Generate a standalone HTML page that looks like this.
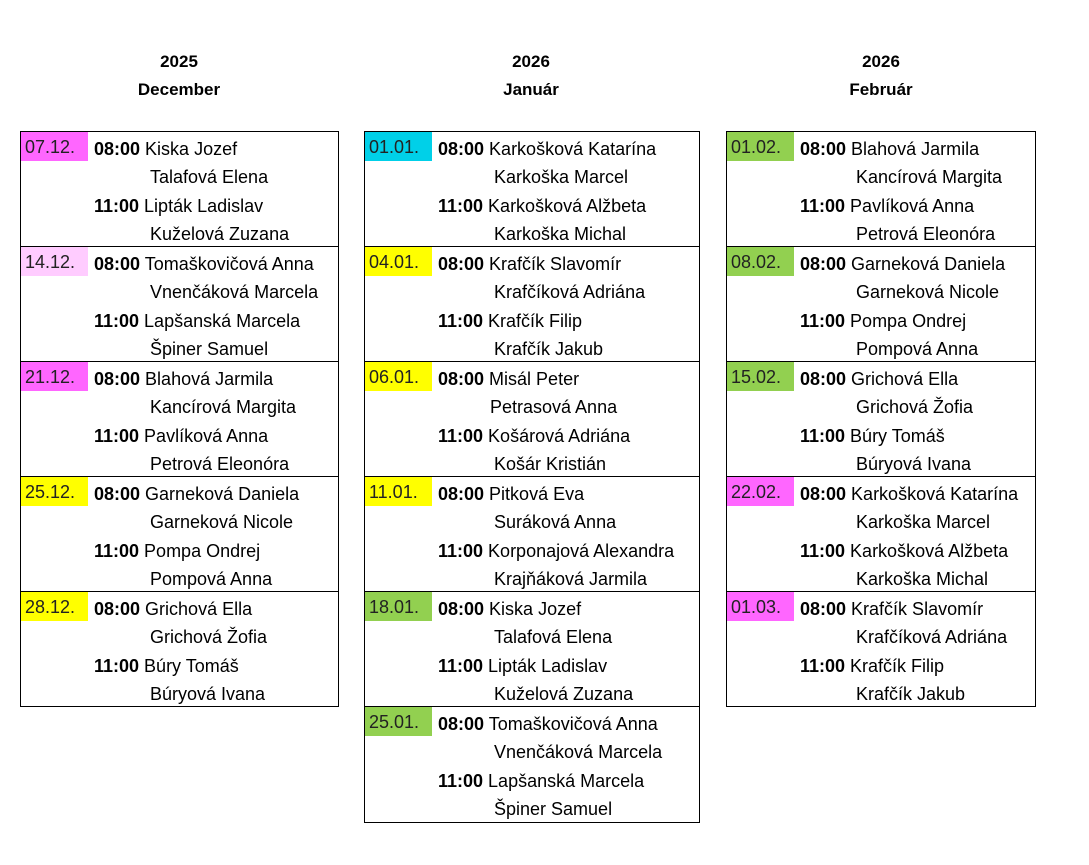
<!DOCTYPE html>
<html><head><meta charset="utf-8"><style>
body{margin:0;width:1089px;height:865px;background:#fff;position:relative;overflow:hidden;font-family:"Liberation Sans",sans-serif;color:#000}
.h{position:absolute;font-weight:bold;font-size:17px;text-align:center;width:200px;line-height:20px}
.b{position:absolute;border:1px solid #000;box-sizing:border-box;height:116px}
.d{position:absolute;left:0;top:0;width:67px;height:29px;font-size:18px;line-height:30px;padding-left:4px;box-sizing:border-box;color:#222}
.l{position:absolute;font-size:18px;line-height:20px;white-space:nowrap}
.t{font-weight:bold}
</style></head><body>
<div class="h" style="left:79px;top:52px">2025</div>
<div class="h" style="left:79px;top:80px">December</div>
<div class="h" style="left:431px;top:52px">2026</div>
<div class="h" style="left:431px;top:80px">Január</div>
<div class="h" style="left:781px;top:52px">2026</div>
<div class="h" style="left:781px;top:80px">Február</div>

<!-- column 1 -->
<div class="b" style="left:20px;top:131px;width:319px"><div class="d" style="background:#ff66ff">07.12.</div>
<div class="l" style="left:73px;top:7px"><span class="t">08:00</span> Kiska Jozef</div>
<div class="l" style="left:129px;top:35px">Talafová Elena</div>
<div class="l" style="left:73px;top:64px"><span class="t">11:00</span> Lipták Ladislav</div>
<div class="l" style="left:129px;top:92px">Kuželová Zuzana</div></div>
<div class="b" style="left:20px;top:246px;width:319px"><div class="d" style="background:#ffccff">14.12.</div>
<div class="l" style="left:73px;top:7px"><span class="t">08:00</span> Tomaškovičová Anna</div>
<div class="l" style="left:129px;top:35px">Vnenčáková Marcela</div>
<div class="l" style="left:73px;top:64px"><span class="t">11:00</span> Lapšanská Marcela</div>
<div class="l" style="left:129px;top:92px">Špiner Samuel</div></div>
<div class="b" style="left:20px;top:361px;width:319px"><div class="d" style="background:#ff66ff">21.12.</div>
<div class="l" style="left:73px;top:7px"><span class="t">08:00</span> Blahová Jarmila</div>
<div class="l" style="left:129px;top:35px">Kancírová  Margita</div>
<div class="l" style="left:73px;top:64px"><span class="t">11:00</span> Pavlíková Anna</div>
<div class="l" style="left:129px;top:92px">Petrová Eleonóra</div></div>
<div class="b" style="left:20px;top:476px;width:319px"><div class="d" style="background:#ffff00">25.12.</div>
<div class="l" style="left:73px;top:7px"><span class="t">08:00</span> Garneková Daniela</div>
<div class="l" style="left:129px;top:35px">Garneková Nicole</div>
<div class="l" style="left:73px;top:64px"><span class="t">11:00</span> Pompa Ondrej</div>
<div class="l" style="left:129px;top:92px">Pompová Anna</div></div>
<div class="b" style="left:20px;top:591px;width:319px"><div class="d" style="background:#ffff00">28.12.</div>
<div class="l" style="left:73px;top:7px"><span class="t">08:00</span> Grichová Ella</div>
<div class="l" style="left:129px;top:35px">Grichová Žofia</div>
<div class="l" style="left:73px;top:64px"><span class="t">11:00</span> Búry Tomáš</div>
<div class="l" style="left:129px;top:92px">Búryová Ivana</div></div>

<!-- column 2 -->
<div class="b" style="left:364px;top:131px;width:336px"><div class="d" style="background:#00d0e8">01.01.</div>
<div class="l" style="left:73px;top:7px"><span class="t">08:00</span> Karkošková Katarína</div>
<div class="l" style="left:129px;top:35px">Karkoška Marcel</div>
<div class="l" style="left:73px;top:64px"><span class="t">11:00</span> Karkošková Alžbeta</div>
<div class="l" style="left:129px;top:92px">Karkoška Michal</div></div>
<div class="b" style="left:364px;top:246px;width:336px"><div class="d" style="background:#ffff00">04.01.</div>
<div class="l" style="left:73px;top:7px"><span class="t">08:00</span> Krafčík Slavomír</div>
<div class="l" style="left:129px;top:35px">Krafčíková Adriána</div>
<div class="l" style="left:73px;top:64px"><span class="t">11:00</span> Krafčík Filip</div>
<div class="l" style="left:129px;top:92px">Krafčík Jakub</div></div>
<div class="b" style="left:364px;top:361px;width:336px"><div class="d" style="background:#ffff00">06.01.</div>
<div class="l" style="left:73px;top:7px"><span class="t">08:00</span> Misál Peter</div>
<div class="l" style="left:125px;top:35px">Petrasová Anna</div>
<div class="l" style="left:73px;top:64px"><span class="t">11:00</span> Košárová Adriána</div>
<div class="l" style="left:129px;top:92px">Košár Kristián</div></div>
<div class="b" style="left:364px;top:476px;width:336px"><div class="d" style="background:#ffff00">11.01.</div>
<div class="l" style="left:73px;top:7px"><span class="t">08:00</span> Pitková Eva</div>
<div class="l" style="left:129px;top:35px">Suráková Anna</div>
<div class="l" style="left:73px;top:64px"><span class="t">11:00</span> Korponajová Alexandra</div>
<div class="l" style="left:129px;top:92px">Krajňáková Jarmila</div></div>
<div class="b" style="left:364px;top:591px;width:336px"><div class="d" style="background:#92d050">18.01.</div>
<div class="l" style="left:73px;top:7px"><span class="t">08:00</span> Kiska Jozef</div>
<div class="l" style="left:129px;top:35px">Talafová Elena</div>
<div class="l" style="left:73px;top:64px"><span class="t">11:00</span> Lipták Ladislav</div>
<div class="l" style="left:129px;top:92px">Kuželová Zuzana</div></div>
<div class="b" style="left:364px;top:706px;width:336px;height:117px"><div class="d" style="background:#92d050">25.01.</div>
<div class="l" style="left:73px;top:7px"><span class="t">08:00</span> Tomaškovičová Anna</div>
<div class="l" style="left:129px;top:35px">Vnenčáková Marcela</div>
<div class="l" style="left:73px;top:64px"><span class="t">11:00</span> Lapšanská Marcela</div>
<div class="l" style="left:129px;top:92px">Špiner Samuel</div></div>

<!-- column 3 -->
<div class="b" style="left:726px;top:131px;width:310px"><div class="d" style="background:#92d050">01.02.</div>
<div class="l" style="left:73px;top:7px"><span class="t">08:00</span> Blahová Jarmila</div>
<div class="l" style="left:129px;top:35px">Kancírová  Margita</div>
<div class="l" style="left:73px;top:64px"><span class="t">11:00</span> Pavlíková Anna</div>
<div class="l" style="left:129px;top:92px">Petrová Eleonóra</div></div>
<div class="b" style="left:726px;top:246px;width:310px"><div class="d" style="background:#92d050">08.02.</div>
<div class="l" style="left:73px;top:7px"><span class="t">08:00</span> Garneková Daniela</div>
<div class="l" style="left:129px;top:35px">Garneková Nicole</div>
<div class="l" style="left:73px;top:64px"><span class="t">11:00</span> Pompa Ondrej</div>
<div class="l" style="left:129px;top:92px">Pompová Anna</div></div>
<div class="b" style="left:726px;top:361px;width:310px"><div class="d" style="background:#92d050">15.02.</div>
<div class="l" style="left:73px;top:7px"><span class="t">08:00</span> Grichová Ella</div>
<div class="l" style="left:129px;top:35px">Grichová Žofia</div>
<div class="l" style="left:73px;top:64px"><span class="t">11:00</span> Búry Tomáš</div>
<div class="l" style="left:129px;top:92px">Búryová Ivana</div></div>
<div class="b" style="left:726px;top:476px;width:310px"><div class="d" style="background:#ff66ff">22.02.</div>
<div class="l" style="left:73px;top:7px"><span class="t">08:00</span> Karkošková Katarína</div>
<div class="l" style="left:129px;top:35px">Karkoška Marcel</div>
<div class="l" style="left:73px;top:64px"><span class="t">11:00</span> Karkošková Alžbeta</div>
<div class="l" style="left:129px;top:92px">Karkoška Michal</div></div>
<div class="b" style="left:726px;top:591px;width:310px"><div class="d" style="background:#ff66ff">01.03.</div>
<div class="l" style="left:73px;top:7px"><span class="t">08:00</span> Krafčík Slavomír</div>
<div class="l" style="left:129px;top:35px">Krafčíková Adriána</div>
<div class="l" style="left:73px;top:64px"><span class="t">11:00</span> Krafčík Filip</div>
<div class="l" style="left:129px;top:92px">Krafčík Jakub</div></div>
</body></html>
